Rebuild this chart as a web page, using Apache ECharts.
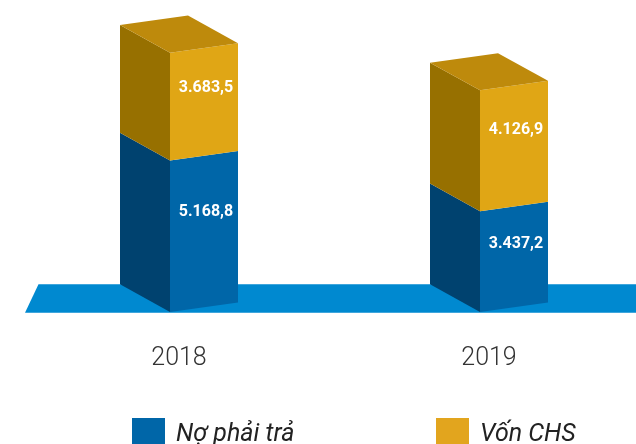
<!DOCTYPE html>
<html>
<head>
<meta charset="utf-8">
<script src="https://cdn.jsdelivr.net/npm/echarts@6/dist/echarts.min.js"></script>
<style>
  html, body { margin: 0; padding: 0; background: #fff; }
  #main { width: 636px; height: 444px; }
</style>
</head>
<body>
<div id="main"></div>
<script>
// du lieu (ty dong)
var years = ['2018', '2019'];
var debt = [5168.8, 3437.2];     // Nợ phải trả
var equity = [3683.5, 4126.9];   // Vốn CHS
var names = ['Nợ phải trả', 'Vốn CHS'];

// 5168.8 -> "5.168,8"
function fmt(v) {
  var p = v.toFixed(1).split('.');
  return p[0].replace(/\B(?=(\d{3})+(?!\d))/g, '.') + ',' + p[1];
}

// goc phia truoc ben trai nam o (c-9, y)
function corners(c, y) {
  return {
    fl: [c - 9, y],
    fr: [c + 59, y - 9.5],
    bl: [c - 59, y - 27.7],
    br: [c + 9, y - 37.2]
  };
}

function cuboid(front, side, top, showTop) {
  return function (params, api) {
    var i = api.value(0);
    var lo = api.coord([i, api.value(1)]);
    var hi = api.coord([i, api.value(2)]);
    var c = lo[0];
    var b = corners(c, lo[1]);
    var t = corners(c, hi[1]);
    var kids = [
      { type: 'polygon', shape: { points: [b.bl, b.fl, t.fl, t.bl] }, style: { fill: side } },
      { type: 'polygon', shape: { points: [b.fl, b.fr, t.fr, t.fl] }, style: { fill: front } }
    ];
    if (showTop) {
      kids.push({ type: 'polygon', shape: { points: [t.fl, t.fr, t.br, t.bl] }, style: { fill: top } });
    }
    var midV = api.value(1) + 0.63 * (api.value(2) - api.value(1));
    var my = api.coord([i, midV])[1] - 4.9;
    kids.push({
      type: 'text',
      style: {
        text: fmt(api.value(3)),
        x: c + 27, y: my,
        fill: '#fff',
        fontSize: 16, fontWeight: 'bold', fontFamily: 'Roboto',
        align: 'center', verticalAlign: 'middle'
      }
    });
    return { type: 'group', children: kids };
  };
}

var lowData = [], highData = [];
for (var i = 0; i < years.length; i++) {
  lowData.push([i, 0, debt[i], debt[i]]);
  highData.push([i, debt[i], debt[i] + equity[i], equity[i]]);
}

var myChart = echarts.init(document.getElementById('main'));

var option = {
  animation: false,
  // tam cac cot: 179 va 489
  grid: { left: 179, right: 147, top: 19, bottom: 132 },
  xAxis: {
    type: 'category',
    data: years,
    boundaryGap: false,
    axisLine: { show: false },
    axisTick: { show: false },
    axisLabel: { margin: 34, fontSize: 25, fontWeight: 300, fontFamily: 'Roboto', color: '#333' }
  },
  yAxis: { type: 'value', min: 0, max: 10000, show: false },
  legend: [
    {
      data: [names[0]], left: 127, top: 413, icon: 'rect',
      itemWidth: 33, itemHeight: 34,
      textStyle: { fontSize: 25, fontStyle: 'italic', fontFamily: 'Roboto', color: '#222', padding: [0, 0, 0, 6] }
    },
    {
      data: [names[1]], left: 431, top: 413, icon: 'rect',
      itemWidth: 33, itemHeight: 34,
      textStyle: { fontSize: 25, fontStyle: 'italic', fontFamily: 'Roboto', color: '#222', padding: [0, 0, 0, 6] }
    }
  ],
  graphic: [{
    type: 'text', x: 598, y: 0,
    style: { text: '(Tỷ đồng)', fontSize: 20, fontStyle: 'italic', fontFamily: 'Roboto', fill: '#333', align: 'right', verticalAlign: 'bottom' }
  }],
  series: [
    {
      name: 'floor',
      type: 'custom',
      silent: true,
      data: [[0, 0]],
      renderItem: function (params, api) {
        var y = api.coord([0, 0])[1];
        return {
          type: 'polygon',
          shape: { points: [[25, y + 0.7], [38.5, y - 27.7], [640, y - 27.7], [640, y + 0.7]] },
          style: { fill: '#0089D0' }
        };
      }
    },
    {
      name: names[0],
      type: 'custom',
      itemStyle: { color: '#0066A8' },
      data: lowData,
      renderItem: cuboid('#0066A8', '#00426F', '#00558C', false)
    },
    {
      name: names[1],
      type: 'custom',
      itemStyle: { color: '#E2A51E' },
      data: highData,
      renderItem: cuboid('#E0A615', '#977000', '#BE8A0C', true)
    }
  ]
};

myChart.setOption(option);
</script>
</body>
</html>
